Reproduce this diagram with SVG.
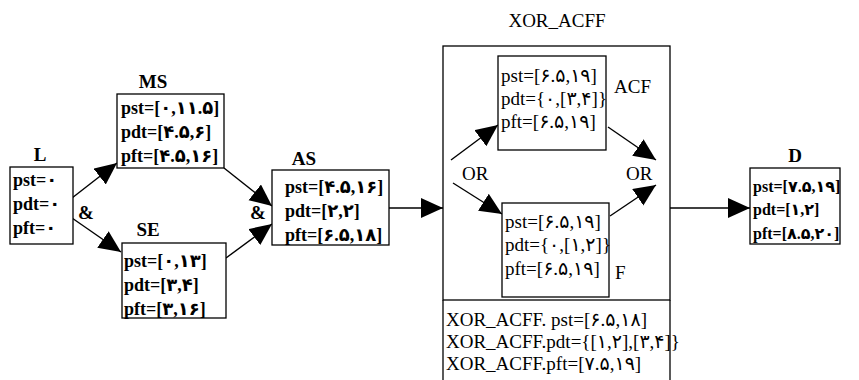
<svg xmlns="http://www.w3.org/2000/svg" width="859" height="380" viewBox="0 0 859 380">
<defs>
<style>
text{font-family:"Liberation Serif","DejaVu Sans",serif;font-size:19px;fill:#000}
.b{font-weight:bold;font-size:18px}
.t{font-weight:bold;font-size:19px;text-anchor:middle}
.box{fill:#fff;stroke:#000;stroke-width:1.3}
.c{fill:none;stroke:#000;stroke-width:1.4}
</style>
<marker id="ah" markerUnits="userSpaceOnUse" markerWidth="24" markerHeight="22" refX="22" refY="10" orient="auto">
<path d="M0,0 L22,10 L0,20 Z" fill="#000"/>
</marker>
</defs>
<rect width="859" height="380" fill="#fff"/>

<g id="connectors">
<line class="c" x1="72" y1="198" x2="117" y2="163" marker-end="url(#ah)"/>
<line class="c" x1="72" y1="218" x2="121" y2="252" marker-end="url(#ah)"/>
<line class="c" x1="224" y1="168" x2="272" y2="206" marker-end="url(#ah)"/>
<line class="c" x1="226" y1="258" x2="272" y2="224" marker-end="url(#ah)"/>
<line class="c" x1="389" y1="208" x2="443" y2="208" marker-end="url(#ah)"/>
<line class="c" x1="451" y1="160" x2="498" y2="125" marker-end="url(#ah)"/>
<line class="c" x1="453" y1="183" x2="502" y2="214" marker-end="url(#ah)"/>
<line class="c" x1="608" y1="127" x2="656" y2="160" marker-end="url(#ah)"/>
<line class="c" x1="610" y1="216" x2="656" y2="185" marker-end="url(#ah)"/>
<line class="c" x1="670" y1="208" x2="750" y2="208" marker-end="url(#ah)"/>
<text class="b" x="78" y="219" style="font-size:19px">&amp;</text>
<text class="b" x="250" y="219" style="font-size:19px">&amp;</text>
<text x="462" y="180">OR</text>
<text x="626" y="180">OR</text>
</g>

<g id="L">
<text class="t" x="40" y="161">L</text>
<rect class="box" x="10" y="167" width="63" height="77"/>
<text class="b" x="13" y="186">pst=۰</text>
<text class="b" x="13" y="210">pdt=۰</text>
<text class="b" x="13" y="234">pft=۰</text>
</g>

<g id="MS">
<text class="t" x="153" y="88">MS</text>
<rect class="box" x="117" y="94" width="107" height="74"/>
<text class="b" x="121" y="114">pst=[۰,۱۱.۵]</text>
<text class="b" x="121" y="138">pdt=[۴.۵,۶]</text>
<text class="b" x="121" y="162">pft=[۴.۵,۱۶]</text>
</g>

<g id="SE">
<text class="t" x="148" y="236">SE</text>
<rect class="box" x="122" y="243" width="104" height="75"/>
<text class="b" x="124" y="267">pst=[۰,۱۳]</text>
<text class="b" x="124" y="291">pdt=[۳,۴]</text>
<text class="b" x="124" y="315">pft=[۳,۱۶]</text>
</g>

<g id="AS">
<text class="t" x="304" y="165">AS</text>
<rect class="box" x="272" y="170" width="117" height="75"/>
<text class="b" x="285" y="193">pst=[۴.۵,۱۶]</text>
<text class="b" x="285" y="217">pdt=[۲,۲]</text>
<text class="b" x="285" y="241">pft=[۶.۵,۱۸]</text>
</g>

<g id="XOR_ACFF">
<text x="557" y="27" style="text-anchor:middle">XOR_ACFF</text>
<rect class="box" x="443" y="46" width="227" height="254" style="fill:none"/>
<line class="c" x1="443" y1="300" x2="443" y2="380" style="stroke-width:1.3"/>
<line class="c" x1="670" y1="300" x2="670" y2="380" style="stroke-width:1.3"/>
<text x="446" y="326">XOR_ACFF. pst=[۶.۵,۱۸]</text>
<text x="446" y="348">XOR_ACFF.pdt={[۱,۲],[۳,۴]}</text>
<text x="446" y="370">XOR_ACFF.pft=[۷.۵,۱۹]</text>
</g>

<g id="ACF">
<rect class="box" x="498" y="56" width="108" height="94"/>
<text x="501" y="82">pst=[۶.۵,۱۹]</text>
<text x="501" y="105">pdt={۰,[۳,۴]}</text>
<text x="501" y="128">pft=[۶.۵,۱۹]</text>
<text x="614" y="93">ACF</text>
</g>

<g id="F">
<rect class="box" x="502" y="203" width="107" height="94"/>
<text x="505" y="228">pst=[۶.۵,۱۹]</text>
<text x="505" y="251">pdt={۰,[۱,۲]}</text>
<text x="505" y="275">pft=[۶.۵,۱۹]</text>
<text x="615" y="279">F</text>
</g>

<g id="D">
<text class="t" x="795" y="162">D</text>
<rect class="box" x="750" y="168" width="90" height="76"/>
<text class="b" x="753" y="192" style="font-size:16px">pst=[۷.۵,۱۹]</text>
<text class="b" x="753" y="215" style="font-size:16px">pdt=[۱,۲]</text>
<text class="b" x="753" y="239" style="font-size:16px">pft=[۸.۵,۲۰]</text>
</g>
</svg>
